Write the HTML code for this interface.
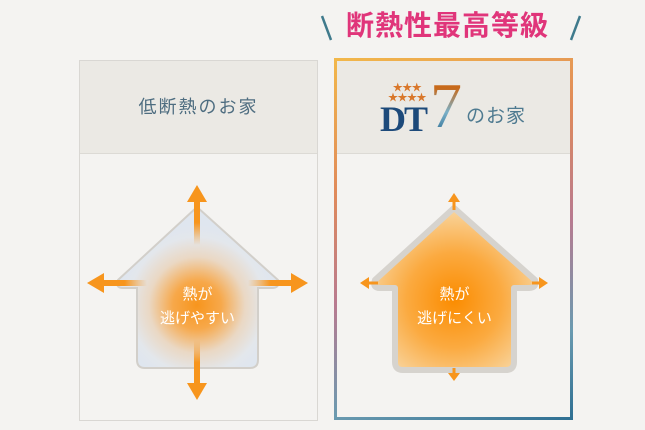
<!DOCTYPE html>
<html><head><meta charset="utf-8"><style>
body{margin:0;width:645px;height:430px;background:#f4f3f1;overflow:hidden;position:relative;font-family:"Liberation Sans","Noto Sans CJK JP",sans-serif}
.a{position:absolute}
</style></head><body>
<div class="a" style="left:79px;top:60px;width:237px;height:359px;border:1px solid #d9d7d3;background:#f4f3f1"></div>
<div class="a" style="left:80px;top:61px;width:237px;height:92px;background:#ebe9e4;border-bottom:1px solid #dcdad5"></div>
<div class="a" style="left:80px;top:93px;width:237px;text-align:center;font-size:18px;color:#4e6d80;letter-spacing:2px">低断熱のお家</div>

<div class="a" style="left:334px;top:58px;width:239px;height:362px;background:linear-gradient(160deg,#f2b84a,#e08a5a 30%,#b87a90 55%,#6a9ab0 80%,#2e6f92)"></div>
<div class="a" style="left:337px;top:61px;width:233px;height:356px;background:#f4f3f1"></div>
<div class="a" style="left:337px;top:61px;width:233px;height:92px;background:#ebe9e4;border-bottom:1px solid #dcdad5"></div>
<div class="a" style="left:384px;top:84px;font-size:10px;color:#d9772a;letter-spacing:-0.5px;line-height:10px;text-align:center;width:46px">★★★<br>★★★★</div>
<div class="a" style="left:380px;top:101px;font-family:'Liberation Serif',serif;font-weight:bold;font-size:36px;line-height:36px;color:#1d4a7a;letter-spacing:-2px">DT</div>
<div class="a" style="left:430px;top:76px;font-family:'Liberation Serif',serif;font-size:64px;line-height:60px;background:linear-gradient(180deg,#c86a1a 20%,#7ab0c8 60%,#2a6a90);-webkit-background-clip:text;background-clip:text;color:transparent">7</div>
<div class="a" style="left:466px;top:101px;font-size:19px;color:#4e7a90;letter-spacing:1px">のお家</div>

<div class="a" style="left:346px;top:8px;font-size:28px;font-weight:bold;color:#e0357a;letter-spacing:1px;line-height:36px">断熱性最高等級</div>
<svg class="a" style="left:0;top:0" width="645" height="430">
<path d="M322,16 L331,40" stroke="#3f7a8c" stroke-width="2.5"/>
<path d="M580,16 L571,40" stroke="#3f7a8c" stroke-width="2.5"/>
<defs>
<radialGradient id="lg" cx="197" cy="305" r="80" gradientUnits="userSpaceOnUse"><stop offset="0" stop-color="#f7951d"/><stop offset=".3" stop-color="#f7a84a"/><stop offset=".6" stop-color="#ead8c4"/><stop offset=".85" stop-color="#e3e7ec"/><stop offset="1" stop-color="#dfe6ef"/></radialGradient>
<radialGradient id="rg" cx="454" cy="300" r="95" gradientUnits="userSpaceOnUse"><stop offset="0" stop-color="#fb8c00"/><stop offset=".5" stop-color="#fbaa40"/><stop offset="1" stop-color="#f8d9a8"/></radialGradient>
<linearGradient id="au" x1="0" y1="1" x2="0" y2="0"><stop offset="0" stop-color="#f7951d" stop-opacity="0"/><stop offset=".5" stop-color="#f7951d"/></linearGradient>
<linearGradient id="ad" x1="0" y1="0" x2="0" y2="1"><stop offset="0" stop-color="#f7951d" stop-opacity="0"/><stop offset=".5" stop-color="#f7951d"/></linearGradient>
<linearGradient id="al" x1="1" y1="0" x2="0" y2="0"><stop offset="0" stop-color="#f7951d" stop-opacity="0"/><stop offset=".5" stop-color="#f7951d"/></linearGradient>
<linearGradient id="ar" x1="0" y1="0" x2="1" y2="0"><stop offset="0" stop-color="#f7951d" stop-opacity="0"/><stop offset=".5" stop-color="#f7951d"/></linearGradient>
</defs>
<path d="M197,207 L278,280 Q280,288 272,288 L258,288 L258,360 Q258,368 250,368 L145,368 Q137,368 137,360 L137,288 L123,288 Q115,288 118,280 Z" fill="url(#lg)" stroke="#d2cfca" stroke-width="2"/>
<rect x="194" y="200" width="6" height="45" fill="url(#au)"/><path d="M187,202 L197,185 L207,202Z" fill="#f7951d"/>
<rect x="194" y="340" width="6" height="45" fill="url(#ad)"/><path d="M187,383 L197,400 L207,383Z" fill="#f7951d"/>
<rect x="102" y="280" width="45" height="6" fill="url(#al)"/><path d="M104,273 L87,283 L104,293Z" fill="#f7951d"/>
<rect x="248" y="280" width="45" height="6" fill="url(#ar)"/><path d="M291,273 L308,283 L291,293Z" fill="#f7951d"/>
<path d="M454,208 L535,280 Q537,288 529,288 L514,288 L514,362 Q514,370 506,370 L403,370 Q395,370 395,362 L395,288 L380,288 Q372,288 375,280 Z" fill="url(#rg)" stroke="#d6d3ce" stroke-width="6" stroke-linejoin="round"/>
<path d="M454,196 L454,210" stroke="#f7951d" stroke-width="3"/><path d="M448,202 L454,193 L460,202Z" fill="#f7951d"/>
<path d="M454,368 L454,376" stroke="#f7951d" stroke-width="3"/><path d="M448,373 L454,381 L460,373Z" fill="#f7951d"/>
<path d="M364,283 L378,283" stroke="#f7951d" stroke-width="3"/><path d="M369,277 L360,283 L369,289Z" fill="#f7951d"/>
<path d="M532,283 L544,283" stroke="#f7951d" stroke-width="3"/><path d="M539,277 L548,283 L539,289Z" fill="#f7951d"/>
</svg>
<div class="a" style="left:127px;top:283px;width:141px;text-align:center;color:#fff;font-size:15px;line-height:24px">熱が<br>逃げやすい</div>
<div class="a" style="left:385px;top:283px;width:139px;text-align:center;color:#fff;font-size:15px;line-height:24px">熱が<br>逃げにくい</div>
</body></html>
